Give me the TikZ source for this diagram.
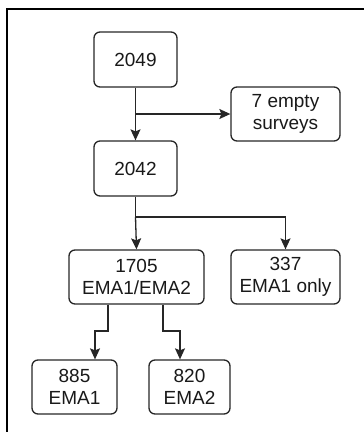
\documentclass[tikz,border=0pt]{standalone}
\usepackage{fontspec}
\setmainfont{Liberation Sans}
\usetikzlibrary{arrows.meta}
\begin{document}
\begin{tikzpicture}[x=1pt,y=-1pt,
  box/.style={draw=black!85, line width=1.3pt, rounded corners=6pt, align=center, inner sep=0pt,
    font=\fontsize{19}{22}\selectfont, text=black!90},
  arr/.style={draw=black!85, line width=1.3pt, -{Stealth[length=11pt,width=10pt,inset=2pt]}},
  ln/.style={draw=black!85, line width=1.3pt}]
\useasboundingbox (0,0) rectangle (364,432);
\begin{scope}
\clip (0,0) rectangle (364,432);
\draw[line width=2pt] (7,9) rectangle (380,450);
\end{scope}
\node[box, minimum width=83pt, minimum height=55pt] (a) at (135.5,59.5) {2049};
\node[box, minimum width=109pt, minimum height=54pt] (e) at (285.5,114) {7 empty\\surveys};
\node[box, minimum width=83pt, minimum height=55pt] (b) at (135.5,168.5) {2042};
\node[box, minimum width=135pt, minimum height=54pt] (c) at (136.5,277) {1705\\EMA1/EMA2};
\node[box, minimum width=109pt, minimum height=54pt] (d) at (285.5,277) {337\\EMA1 only};
\node[box, minimum width=85pt, minimum height=54pt] (f) at (74.5,387) {885\\EMA1};
\node[box, minimum width=81pt, minimum height=54pt] (g) at (189.5,387) {820\\EMA2};
\coordinate (j1) at (135.5,114);
\coordinate (j2) at (135.5,217);
\coordinate (k1) at (108,331);
\coordinate (k2) at (95,331);
\coordinate (k3) at (163,331);
\coordinate (k4) at (180,331);
\draw[arr] (a) -- (b);
\draw[arr] (j1) -- (e.west);
\draw[ln] (b.south) -- (j2);
\draw[arr] (j2) -- (c.north);
\draw[arr] (j2) -| (d.north);
\draw[arr] (c.south -| k1) -- (k1) -- (k2) -- (f.north -| k2);
\draw[arr] (c.south -| k3) -- (k3) -- (k4) -- (g.north -| k4);
\end{tikzpicture}
\end{document}
